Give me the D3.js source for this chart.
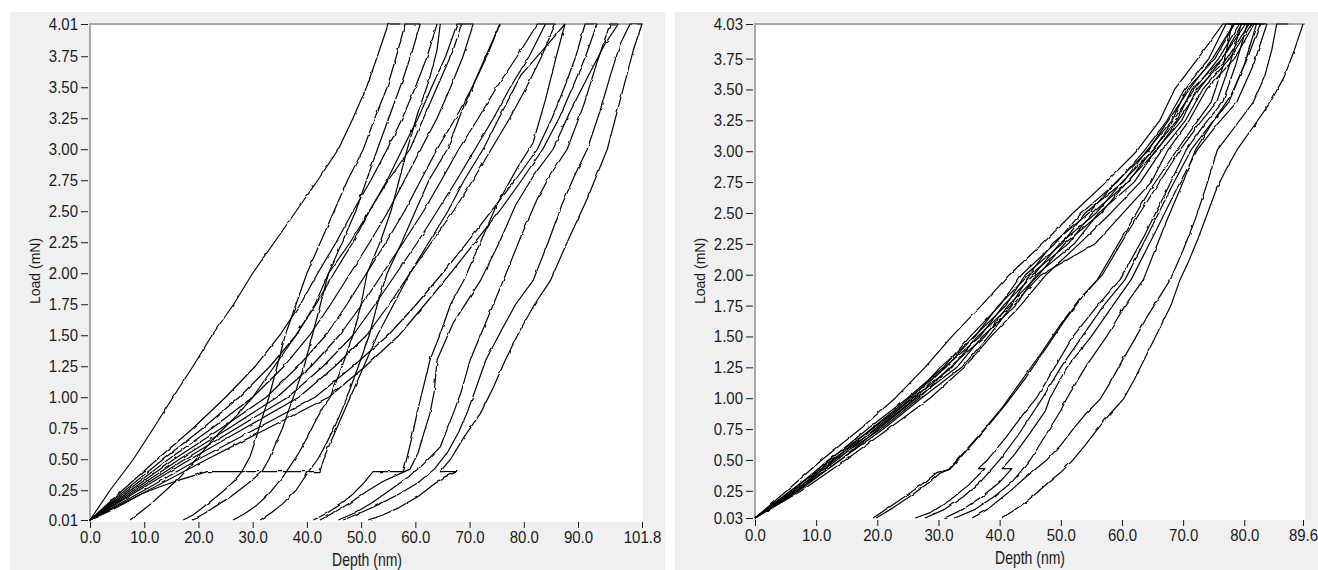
<!DOCTYPE html>
<html>
<head>
<meta charset="utf-8">
<script src="https://cdn.jsdelivr.net/npm/d3@7"></script>
<style>
  body { margin: 0; background: #fff; }
  text { font-family: "Liberation Sans", Arial, sans-serif; }
</style>
</head>
<body>
<svg id="chart" width="1318" height="570"></svg>
<script>
// ---- axis ticks ----
const leftDepthTicks = [0, 10, 20, 30, 40, 50, 60, 70, 80, 90, 101.8];
const leftLoadTicks = [0.01, 0.25, 0.5, 0.75, 1, 1.25, 1.5, 1.75, 2, 2.25, 2.5, 2.75, 3, 3.25, 3.5, 3.75, 4.01];
const rightDepthTicks = [0, 10, 20, 30, 40, 50, 60, 70, 80, 89.6];
const rightLoadTicks = [0.03, 0.25, 0.5, 0.75, 1, 1.25, 1.5, 1.75, 2, 2.25, 2.5, 2.75, 3, 3.25, 3.5, 3.75, 4.03];

// ---- left sample: fan from the origin, depth (nm) read at each load level (mN) ----
const leftFanLoads = [0.01, 0.25, 0.5, 0.75, 1.0, 1.25, 1.5, 1.75, 2.0, 2.25, 2.5, 2.75, 3.0, 3.25, 3.5, 3.75, 4.01];
const leftFanDepths = [
  [0, 3.7, 8.0, 11.7, 15.3, 19.0, 22.5, 26.5, 30.0, 34.0, 38.0, 42.0, 45.8, 48.5, 51.0, 53.0, 55.0],
  [0, 6.0, 12.4, 19.0, 25.0, 30.5, 35.0, 38.8, 42.0, 45.4, 48.5, 51.8, 54.8, 57.6, 60.0, 62.2, 64.0],
  [0, 6.5, 13.5, 20.8, 27.5, 33.2, 38.0, 41.7, 45.0, 48.5, 51.5, 54.8, 57.6, 60.5, 63.0, 65.6, 67.7],
  [0, 7.0, 14.5, 22.5, 30.0, 35.8, 40.5, 44.4, 48.0, 51.6, 55.0, 58.0, 61.0, 64.0, 66.5, 68.8, 70.7],
  [0, 7.5, 15.5, 24.2, 32.5, 38.4, 43.5, 47.4, 51.0, 54.6, 58.0, 61.0, 64.0, 67.4, 70.5, 73.2, 75.6],
  [0, 8.0, 16.5, 25.6, 34.5, 40.8, 46.0, 50.2, 54.0, 57.8, 61.5, 64.8, 68.0, 71.6, 75.0, 78.8, 82.5],
  [0, 8.5, 17.5, 27.0, 36.5, 43.0, 48.5, 52.6, 56.5, 60.4, 64.0, 67.6, 71.0, 74.4, 77.5, 81.0, 84.0],
  [0, 9.0, 18.5, 28.5, 38.5, 45.2, 51.0, 55.2, 59.0, 63.0, 67.0, 70.6, 74.0, 77.4, 80.5, 83.3, 85.8],
  [0, 10.0, 20.0, 30.8, 41.5, 48.5, 55.0, 60.2, 65.0, 69.6, 74.0, 78.4, 82.5, 85.2, 87.5, 89.6, 91.3],
  [0, 10.8, 21.6, 32.8, 44.0, 50.8, 57.0, 61.8, 66.5, 71.0, 75.5, 79.6, 83.5, 86.5, 89.0, 91.4, 93.5]
];
const leftFanHold = [57.2, 64.0, 70.7, 70.7, 75.6, 85.8, 84.0, 85.8, 93.5, 93.5];

// ---- left sample: single curves [depth nm, load mN] ----
const leftPopIn = [[0,.01],[4.5,.1],[9.5,.22],[13,.28],[17,.34],[21.6,.40],[42.4,.40],[43.5,.55],[45,.7],[46.5,.85],[48,1.0],[50.5,1.25],[53,1.5],[56,1.75],[59,2.0],[62.5,2.25],[66,2.5],[69,2.75],[72.5,3.0],[76,3.3],[79.5,3.6],[84.5,3.85],[87.6,4.01]];

const leftShifted = [
  [[7.4,.01],[9.5,.08],[11.5,.15],[14,.25],[16.5,.35],[19,.47],[21.5,.6],[24,.72],[27,.85],[30,1.0],[34,1.25],[38,1.5],[41.5,1.75],[44,2.0],[48,2.25],[51.5,2.5],[55,2.75],[59,3.0],[62,3.3],[65,3.6],[67,3.8],[68.5,4.01]],
  [[17.2,.01],[19,.05],[20.5,.1],[22.5,.17],[24.5,.24],[26.5,.32],[28,.40],[29.5,.52],[30.5,.65],[31.5,.8],[33,1.0],[34.5,1.25],[36,1.5],[38,1.75],[40,2.0],[42.5,2.25],[45,2.5],[47.5,2.75],[50.4,3.0],[52.5,3.25],[54.8,3.5],[56.5,3.75],[58.1,4.01],[60.9,4.01]],
  [[18.8,.01],[21,.06],[23.5,.13],[26,.2],[29,.3],[31.7,.40],[33,.5],[34.2,.62],[35.5,.75],[36.5,.88],[37.5,1.0],[39.5,1.25],[41,1.5],[42.5,1.75],[44,2.0],[46.5,2.25],[49,2.5],[51,2.75],[53,3.0],[55.5,3.3],[57.6,3.55],[59.5,3.8],[60.9,4.01]],
  [[26.4,.01],[28.5,.06],[30.5,.12],[33,.22],[35.6,.36],[37,.45],[38.5,.55],[40,.67],[41.5,.8],[43,.92],[44.3,1.0],[46.5,1.25],[48.5,1.5],[50,1.75],[51.1,2.0],[53.5,2.25],[55.5,2.5],[57,2.75],[58.5,3.0],[60.5,3.3],[62.5,3.55],[64,3.8],[64.6,4.01]],
  [[31.4,.01],[33.5,.07],[35.5,.14],[38,.25],[40.3,.40],[42,.5],[43.5,.62],[45,.75],[46.3,.88],[47.4,1.0],[49.5,1.25],[51.5,1.5],[53,1.75],[54.8,2.0],[57.5,2.25],[60,2.5],[62.5,2.75],[65.9,3.0],[68.5,3.3],[71,3.55],[73.5,3.8],[75.6,4.01]],
  [[41.2,.01],[43.5,.06],[46,.13],[48.5,.22],[50.5,.31],[52.2,.40],[57.8,.40],[58.5,.52],[59.5,.7],[60.3,.87],[61.3,1.05],[62.7,1.3],[64.5,1.5],[66.5,1.75],[68.9,1.94],[72,2.25],[75,2.55],[78.8,2.85],[81.7,3.05],[84,3.4],[86,3.75],[87.6,4.01]],
  [[42.4,.01],[45,.07],[48,.15],[51,.24],[54,.32],[57,.38],[59,.42],[60.5,.55],[61.5,.7],[62.7,.87],[63.5,1.05],[64,1.3],[67,1.6],[72,1.94],[75.5,2.25],[78.5,2.55],[82,2.8],[85.4,3.0],[88.5,3.3],[92,3.6],[95,3.85],[97.4,4.01]],
  [[45.8,.01],[49,.07],[52,.15],[55.3,.25],[58.5,.35],[61.5,.46],[64.6,.6],[67,.87],[68.5,1.05],[70.1,1.3],[72.5,1.55],[76.2,1.94],[79.5,2.3],[82.5,2.6],[85,2.8],[88,3.0],[91,3.35],[93.5,3.7],[95.9,4.01],[97.4,4.01]],
  [[46.7,.01],[50,.07],[53.5,.14],[57,.22],[60.5,.31],[63.5,.42],[66,.56],[68,.72],[69.5,.87],[71,1.05],[73,1.3],[76,1.55],[78.5,1.75],[81.7,1.94],[84.5,2.25],[87,2.55],[89.5,2.8],[91.7,3.0],[94,3.3],[96,3.6],[97.8,3.85],[99.6,4.01],[101.8,4.01]],
  [[51.3,.01],[54,.05],[57,.11],[60.5,.2],[63.5,.3],[65.5,.36],[67.7,.40],[64.6,.40],[66.5,.5],[69,.68],[72,.87],[74.4,1.08],[76.6,1.3],[79.3,1.54],[82,1.75],[84.9,1.94],[88,2.25],[91.7,2.6],[95.4,3.0],[97.8,3.4],[100.2,3.8],[101.8,4.01]]
];

// ---- right sample: bundle from the origin, depth read at each load level ----
const rightFanLoads = [0.03, 0.25, 0.5, 0.75, 1.0, 1.25, 1.5, 1.75, 2.0, 2.25, 2.5, 2.75, 3.0, 3.25, 3.5, 3.75, 4.03];
const rightFanDepths = [
  [0, 5.2, 10.9, 17.2, 22.9, 27.8, 32.2, 37.0, 41.6, 47.0, 52.0, 57.4, 62.4, 66.2, 68.6, 72.4, 76.5],
  [0, 5.9, 12.2, 18.4, 24.9, 30.8, 35.2, 40.0, 43.6, 49.0, 53.4, 59.2, 63.6, 67.4, 70.2, 74.2, 77.0],
  [0, 6.2, 12.0, 19.2, 25.6, 30.3, 36.0, 39.8, 44.8, 48.6, 54.6, 59.0, 64.2, 67.6, 71.0, 74.8, 78.3],
  [0, 5.8, 12.8, 19.0, 25.2, 31.2, 35.8, 41.0, 44.2, 50.2, 54.0, 60.2, 64.0, 68.2, 70.6, 75.2, 78.4],
  [0, 6.6, 12.6, 19.9, 26.2, 31.0, 36.8, 40.6, 45.6, 49.8, 55.8, 60.0, 65.0, 68.4, 71.8, 75.8, 79.2],
  [0, 6.4, 13.4, 19.6, 25.8, 32.2, 36.4, 41.8, 45.0, 51.2, 55.2, 61.0, 64.8, 69.0, 71.4, 76.4, 79.6],
  [0, 7.0, 13.0, 20.6, 26.8, 31.8, 37.6, 41.4, 46.4, 50.6, 56.6, 60.8, 65.6, 69.2, 72.6, 76.4, 80.2],
  [0, 6.8, 14.0, 20.2, 26.4, 33.0, 37.2, 42.6, 46.0, 52.2, 56.2, 62.0, 65.4, 69.8, 72.2, 77.2, 80.8],
  [0, 7.6, 14.8, 21.8, 28.6, 34.2, 38.6, 43.4, 47.6, 53.0, 58.2, 63.0, 66.4, 70.4, 73.2, 77.6, 81.2],
  [0, 7.2, 13.9, 21.0, 27.2, 33.8, 38.2, 42.0, 46.8, 55.6, 60.2, 64.8, 67.4, 71.0, 73.8, 78.4, 81.6]
];
const rightFanHold = [78, 78.6, 79.5, 80.2, 80.8, 81.5, 82, 82.6, 83.2, 83.7];

// ---- right sample: curves whose contact point is shifted ----
const rightShifted = [
  [[19.3,.03],[22,.12],[25,.22],[28,.33],[29.8,.40],[31.6,.42],[34.5,.58],[37.5,.75],[40.5,.93],[43.7,1.15],[47,1.38],[50,1.6],[53,1.8],[56,1.96],[60,2.3],[64.5,2.68],[69,3.01],[72,3.22],[74.6,3.4],[76.6,3.7],[78,4.03],[80,4.03]],
  [[19.8,.03],[22.5,.11],[25.5,.21],[28.5,.32],[30.2,.39],[32,.43],[35,.6],[38,.77],[41,.95],[44.2,1.16],[47.5,1.4],[50.5,1.62],[53.5,1.82],[56.8,2.0],[61,2.35],[65.5,2.7],[69.5,3.01],[72.6,3.22],[75.5,3.4],[77.6,3.7],[79.5,4.03]],
  [[26.2,.03],[29,.08],[32,.18],[35,.3],[37.6,.43],[36.5,.43],[38,.5],[41,.68],[44,.88],[46,1.0],[49,1.25],[52,1.5],[56,1.75],[59.7,1.96],[63.5,2.3],[67,2.65],[70.5,3.01],[73.5,3.22],[76.5,3.4],[78.6,3.7],[80.5,4.03],[82,4.03]],
  [[27.8,.03],[31,.1],[34,.2],[37,.33],[40,.5],[43,.7],[45,.85],[47,1.0],[50,1.25],[53.5,1.5],[57,1.75],[60.5,1.96],[64.5,2.35],[68,2.7],[71.3,3.01],[74.5,3.22],[77.5,3.4],[80,3.7],[82,4.03]],
  [[31,.03],[34,.1],[37,.2],[40,.32],[42,.43],[40.4,.43],[42.5,.55],[45,.72],[47.5,.9],[48.2,1.0],[51,1.25],[55,1.5],[58.5,1.75],[61.5,1.96],[65.5,2.35],[69,2.7],[72.3,3.01],[75.6,3.22],[78.8,3.4],[81.5,3.7],[83.7,4.03]],
  [[32.7,.03],[36,.1],[39,.2],[42,.32],[45,.5],[47.5,.7],[50,.9],[51,1.0],[54,1.25],[57.5,1.5],[60.5,1.75],[63.5,1.96],[67,2.4],[70,2.75],[72,3.01],[75,3.25],[77.8,3.45],[80.5,3.75],[82.6,4.03]],
  [[35.5,.03],[38,.1],[40,.18],[42,.26],[44,.35],[47.7,.5],[50,.62],[52,.75],[54,.87],[56.4,.99],[58,1.12],[60,1.3],[62,1.47],[64,1.65],[67.9,1.96],[70,2.2],[72,2.45],[73.8,2.72],[75.6,3.01],[78.5,3.2],[81.5,3.4],[83.3,3.6],[84.5,3.82],[85.3,4.03],[87.2,4.03]],
  [[40.4,.03],[42,.08],[44,.15],[46,.23],[48,.32],[50,.4],[52,.5],[54,.62],[56,.75],[58,.87],[60.2,.99],[62,1.15],[64,1.35],[66,1.55],[68,1.75],[69.5,1.96],[71,2.12],[72.5,2.3],[74,2.5],[75.5,2.7],[77,2.85],[78.8,3.01],[81.5,3.2],[84.3,3.4],[86.5,3.6],[88.2,3.82],[89.6,4.03]]
];

// build curves from the level tables
const leftFanCurves = leftFanDepths.map((ds, i) =>
  d3.zip(ds, leftFanLoads).concat([[leftFanHold[i], 4.01]]));
const rightFanCurves = rightFanDepths.map((ds, i) =>
  d3.zip(ds, rightFanLoads).concat([[rightFanHold[i], 4.03]]));

// ---- drawing ----
const svg = d3.select("#chart");
svg.append("rect").attr("width", 1318).attr("height", 570).attr("fill", "#fff");

// rough, sensor-like stroke texture (visual only, data untouched)
const defs = svg.append("defs");
const rough = defs.append("filter").attr("id", "rough")
  .attr("x", "-2%").attr("y", "-2%").attr("width", "104%").attr("height", "104%");
rough.append("feTurbulence").attr("type", "fractalNoise")
  .attr("baseFrequency", 0.13).attr("numOctaves", 1).attr("seed", 3).attr("result", "n");
rough.append("feDisplacementMap").attr("in", "SourceGraphic").attr("in2", "n")
  .attr("scale", 2.6).attr("xChannelSelector", "R").attr("yChannelSelector", "G");

const fontStack = "Liberation Sans, Arial, sans-serif";

function drawPanel(p) {
  let g = svg.append("g");

  g.append("rect")
    .attr("x", p.bg[0]).attr("y", p.bg[1]).attr("width", p.bg[2]).attr("height", p.bg[3])
    .attr("fill", "#f0f0f0");
  g.append("rect")
    .attr("x", p.plot[0]).attr("y", p.plot[1]).attr("width", p.plot[2]).attr("height", p.plot[3])
    .attr("fill", "#fff");

  let x = d3.scaleLinear().domain(p.xDomain).range(p.xRange);
  let y = d3.scaleLinear().domain(p.yDomain).range(p.yRange);

  // plot frame (left + top only)
  g.append("path")
    .attr("d", `M${p.plot[0]},${p.plot[1] + p.plot[3]}V${p.plot[1]}H${p.plot[0] + p.plot[2]}`)
    .attr("fill", "none").attr("stroke", "#a8a8a8").attr("stroke-width", 2);

  let line = d3.line().x(d => x(d[0])).y(d => y(d[1]));
  g.append("g")
    .attr("filter", "url(#rough)")
    .selectAll("path")
    .data(p.curves)
    .join("path")
    .attr("d", line)
    .attr("fill", "none")
    .attr("stroke", "#000")
    .attr("stroke-width", 1.2)
    .attr("stroke-linejoin", "round");

  // y axis
  let ya = g.append("g")
    .attr("transform", `translate(${p.plot[0] - 2},0)`)
    .call(d3.axisLeft(y).tickValues(p.yTicks).tickFormat(d3.format(".2f")).tickSize(7).tickPadding(3));
  ya.select(".domain").remove();
  ya.attr("font-size", 15).attr("font-family", fontStack).attr("color", "#1a1a1a");
  ya.selectAll("text").attr("transform", "scale(1,1.15)");

  // x axis
  let xa = g.append("g")
    .attr("transform", `translate(0,${p.plot[1] + p.plot[3]})`)
    .call(d3.axisBottom(x).tickValues(p.xTicks).tickFormat(d3.format(".1f")).tickSize(6).tickPadding(2));
  xa.select(".domain").remove();
  xa.attr("font-size", 15).attr("font-family", fontStack).attr("color", "#1a1a1a");
  xa.selectAll("text").attr("transform", "scale(1,1.15)");

  // titles
  g.append("text")
    .attr("transform", `translate(${p.xTitle[0]},${p.xTitle[1]}) scale(1,1.25)`)
    .attr("text-anchor", "middle").attr("font-size", 14).attr("fill", "#1a1a1a")
    .text("Depth (nm)");
  g.append("text")
    .attr("transform", `translate(${p.yTitle[0]},${p.yTitle[1]}) rotate(-90)`)
    .attr("text-anchor", "middle").attr("font-size", 14).attr("fill", "#1a1a1a")
    .text("Load (mN)");
}

drawPanel({
  bg: [10, 12, 655, 558],
  plot: [90, 24, 553, 498],
  xDomain: [0, 101.8], xRange: [90, 642],
  yDomain: [0.01, 4.01], yRange: [520, 24],
  xTicks: leftDepthTicks, yTicks: leftLoadTicks,
  curves: leftFanCurves.concat([leftPopIn], leftShifted),
  xTitle: [367, 566], yTitle: [40, 271]
});

drawPanel({
  bg: [675, 12, 643, 558],
  plot: [755, 24, 550, 496],
  xDomain: [0, 89.6], xRange: [755, 1303],
  yDomain: [0.03, 4.03], yRange: [518, 24],
  xTicks: rightDepthTicks, yTicks: rightLoadTicks,
  curves: rightFanCurves.concat(rightShifted),
  xTitle: [1030, 564], yTitle: [705, 271]
});
</script>
</body>
</html>
